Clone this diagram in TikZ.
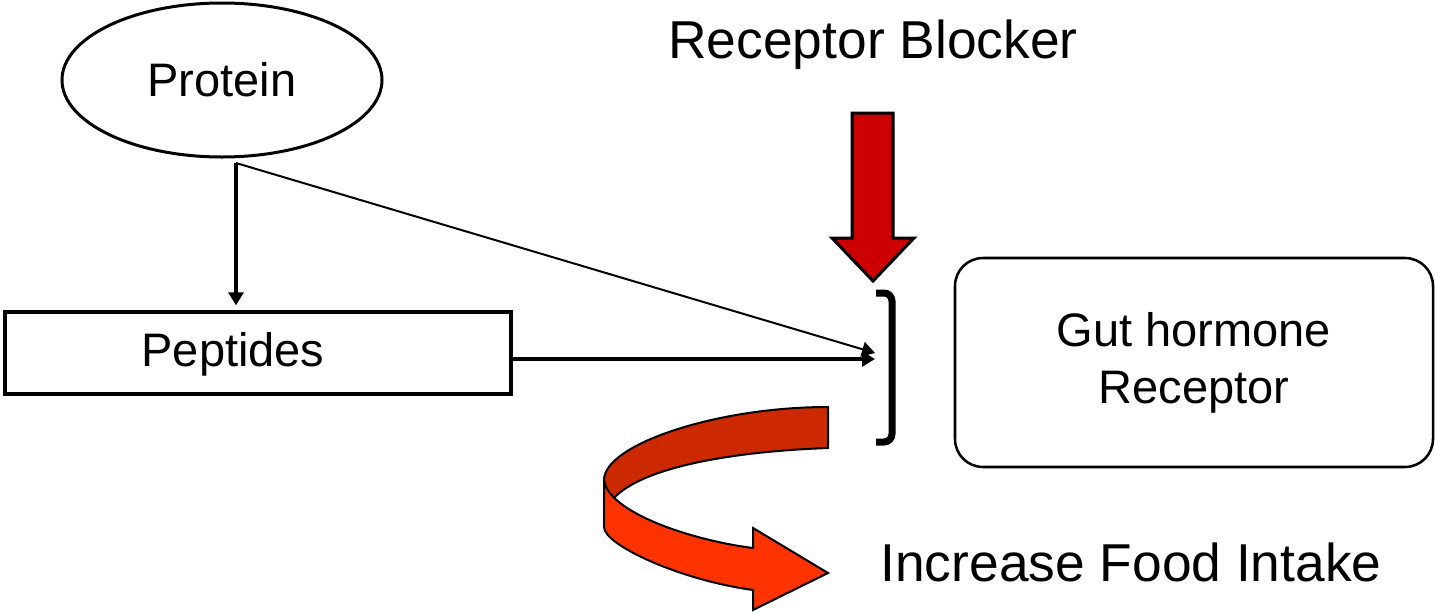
\documentclass[tikz,border=0pt]{standalone}
\usepackage{fontspec}
\setmainfont{Liberation Sans}
\usetikzlibrary{shapes.geometric,arrows.meta}
\definecolor{blockred}{RGB}{204,0,0}
\definecolor{bandback}{RGB}{204,41,0}
\definecolor{bandfront}{RGB}{255,51,0}

\begin{document}
\begin{tikzpicture}[x=0.75pt,y=-0.75pt,
  lbl/.style={font=\fontsize{35.25pt}{42.75pt}\selectfont},
  big/.style={font=\fontsize{40pt}{48pt}\selectfont},
  link/.style={-{Triangle[length=9.75pt,width=11.25pt]}},
  ribbon/.style={line width=1.5pt, line join=miter}]
\useasboundingbox (0,0) rectangle (1435,611);

% boxes and labels
\node[draw, ellipse, line width=2.25pt, minimum width=240pt, minimum height=115.5pt,
      inner sep=0pt, lbl] (protein) at (222,80) {Protein};
\node[draw, line width=3pt, minimum width=379.5pt, minimum height=61.5pt,
      inner sep=0pt] (pepbox) at (258,353) {};
\node[lbl] (peptides) at (233,354) {Peptides};
\node[draw, rounded corners=21pt, line width=1.9pt, minimum width=358.5pt,
      minimum height=156.75pt, align=center, lbl] (receptor) at (1194,362.5)
      {Gut hormone\\Receptor};
\node[big] (blocker) at (873,45) {Receptor Blocker};
\node[big] (intake) at (1131,562) {Increase Food Intake};

% blocker arrow
\draw[line width=2.25pt, fill=blockred, line join=miter]
  (852,113) -- (893,113) -- (893,238) -- (914,238) -- (873,281)
  -- (832,238) -- (852,238) -- cycle;

% receptor site bracket
\draw[line width=5.25pt, rounded corners=6pt]
  (876,293) -- (892,293) -- (892,442) -- (876,442);

% connectors
\coordinate (fork) at (236,163);
\coordinate (hit1) at (875,353);
\coordinate (hit2) at (875,359);
\draw[link, line width=3pt, shorten >=3.5pt] (fork) -- (fork |- pepbox.north);
\draw[link, line width=1.5pt] (fork) -- (hit1);
\draw[link, line width=3pt] (pepbox.east |- hit2) -- (hit2);

% curved ribbon arrow
\draw[ribbon, fill=bandback]
  (828,407) .. controls (715,407) and (604,445) .. (604,480)
  -- (606,492) -- (614,498)
  .. controls (640,470) and (720,452) .. (828,448) -- cycle;
\draw[ribbon, fill=bandfront]
  (604,480) .. controls (608,512) and (690,540) .. (753,548)
  -- (753,528) -- (828,573) -- (753,610) -- (753,590)
  .. controls (680,580) and (604,545) .. (604,527) -- cycle;
\end{tikzpicture}
\end{document}
